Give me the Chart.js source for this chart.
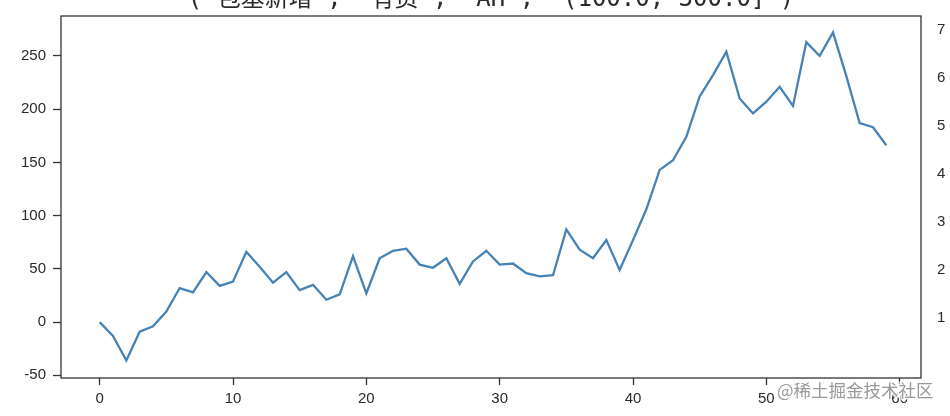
<!DOCTYPE html>
<html>
<head>
<meta charset="utf-8">
<script src="https://cdn.jsdelivr.net/npm/chart.js@4/dist/chart.umd.min.js"></script>
<style>
  html, body { margin: 0; padding: 0; background: #fff; overflow: hidden; }
  #wrap { position: relative; width: 950px; height: 416px; }
</style>
</head>
<body>
<div id="wrap"><canvas id="chart" width="950" height="416"></canvas></div>
<script>
const titleText = "('包基新增', '有资', 'AH', '(100.0, 300.0]')";
const watermark = "@稀土掘金技术社区";

const values = [
  0, -13, -36, -9, -4, 10, 32, 28, 47, 34,
  38, 66, 52, 37, 47, 30, 35, 21, 26, 62,
  27, 60, 67, 69, 54, 51, 60, 36, 57, 67,
  54, 55, 46, 43, 44, 87, 68, 60, 77, 49,
  77, 106, 143, 152, 174, 212, 232, 254, 210, 196,
  207, 221, 203, 263, 250, 272, 231, 187, 183, 166
];
const xTicks = [0, 10, 20, 30, 40, 50, 60];
const yTicks = [-50, 0, 50, 100, 150, 200, 250];
const rightTicks = [1, 2, 3, 4, 5, 6, 7];

const font = { family: "'Liberation Sans', Arial, sans-serif", size: 15 };
const ink = "#2b2b2b";

// frame, clipped title and watermark
const extras = {
  id: "extras",
  afterDraw(chart) {
    const { ctx, chartArea: a } = chart;
    ctx.save();
    ctx.strokeStyle = "#333";
    ctx.lineWidth = 1.3;
    ctx.strokeRect(a.left, a.top, a.right - a.left, a.bottom - a.top);

    ctx.fillStyle = ink;
    ctx.font = "24px 'DejaVu Sans Mono', 'Noto Sans CJK SC', monospace";
    ctx.textAlign = "center";
    ctx.textBaseline = "middle";
    ctx.fillText(titleText, (a.left + a.right) / 2, 0);

    ctx.font = "17.5px 'Noto Sans CJK SC', sans-serif";
    ctx.textAlign = "left";
    ctx.lineWidth = 3;
    ctx.strokeStyle = "rgba(255,255,255,0.85)";
    ctx.strokeText(watermark, 777, 390);
    ctx.fillStyle = "#999";
    ctx.fillText(watermark, 777, 390);
    ctx.restore();
  }
};

const noPad = (s) => { s.paddingTop = 0; s.paddingBottom = 0; };

new Chart(document.getElementById("chart").getContext("2d"), {
  type: "line",
  data: {
    datasets: [{
      data: values.map((v, i) => ({ x: i, y: v })),
      borderColor: "#4682b4",
      borderWidth: 2.3,
      pointRadius: 0,
      tension: 0,
      fill: false
    }]
  },
  options: {
    responsive: false,
    animation: false,
    layout: { padding: { top: 16, left: 0, right: 0, bottom: 0 } },
    plugins: { legend: { display: false }, tooltip: { enabled: false } },
    scales: {
      x: {
        type: "linear",
        min: -2.9,
        max: 61.6,
        afterBuildTicks: (s) => { s.ticks = xTicks.map(v => ({ value: v })); },
        afterFit: (s) => { s.height = 38; },
        grid: { drawOnChartArea: false, drawTicks: true, tickLength: 7, tickColor: "#333", tickWidth: 1.3 },
        border: { display: false },
        ticks: { font, color: ink, padding: 5, maxRotation: 0 }
      },
      y: {
        min: -52.5,
        max: 287.5,
        afterBuildTicks: (s) => { s.ticks = yTicks.map(v => ({ value: v })); },
        afterFit: (s) => { s.width = 61; noPad(s); },
        grid: { drawOnChartArea: false, drawTicks: true, tickLength: 8, tickColor: "#333", tickWidth: 1.3 },
        border: { display: false },
        ticks: { font, color: ink, padding: 7 }
      },
      y2: {
        position: "right",
        min: -0.25,
        max: 7.29,
        afterBuildTicks: (s) => { s.ticks = rightTicks.map(v => ({ value: v })); },
        afterFit: (s) => { s.width = 29; noPad(s); },
        grid: { display: false, drawTicks: false },
        border: { display: false },
        ticks: { font, color: ink, padding: 16 }
      }
    }
  },
  plugins: [extras]
});
</script>
</body>
</html>
